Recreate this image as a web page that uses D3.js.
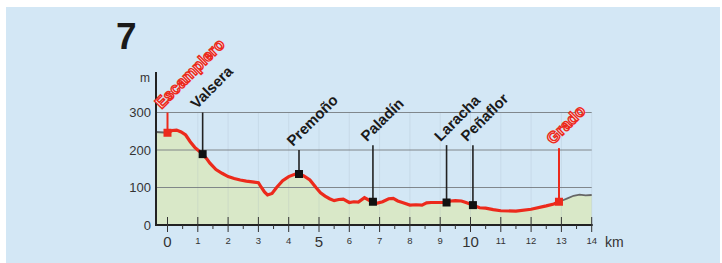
<!DOCTYPE html>
<html>
<head>
<meta charset="utf-8">
<script src="https://cdn.jsdelivr.net/npm/d3@7"></script>
<style>
  html, body { margin: 0; padding: 0; background: #fff; }
  svg { display: block; font-family: "Liberation Sans", Arial, sans-serif; }
</style>
</head>
<body>
<svg id="chart" width="722" height="263"></svg>
<script>
// profile data (distance in km, elevation in m)
const dist = [-0.38, 0, 0.15, 0.3, 0.45, 0.6, 0.75, 0.9, 1.0, 1.16, 1.3, 1.4, 1.6, 1.8, 2.0, 2.2, 2.4, 2.6, 2.8, 3.0,
  3.1, 3.2, 3.3, 3.45, 3.6, 3.8, 4.0, 4.2, 4.34, 4.5, 4.7, 4.9, 5.05, 5.2, 5.35, 5.5, 5.65, 5.8, 6.0, 6.15,
  6.3, 6.5, 6.65, 6.78, 6.9, 7.1, 7.3, 7.45, 7.6, 7.75, 8.0, 8.2, 8.4, 8.55, 8.7, 9.0, 9.21, 9.35, 9.5, 9.7,
  9.85, 10.08, 10.3, 10.5, 10.75, 11, 11.5, 12, 12.5, 12.75, 12.92, 13.05, 13.2, 13.4, 13.6, 13.8, 14.0];
const elev = [248, 246, 252, 253, 248, 240, 222, 207, 200, 189, 176, 165, 148, 138, 129, 124, 120, 117, 115, 113,
  100, 88, 80, 84, 100, 118, 129, 135, 136, 131, 120, 100, 86, 77, 70, 65, 68, 69, 60, 62,
  61, 73, 66, 62, 58, 62, 70, 71, 64, 60, 53, 54, 53, 59, 60, 60, 60, 64, 65, 64,
  60, 53, 46, 45, 41, 38, 37, 42, 51, 56, 62, 66, 71, 78, 81, 79, 80];

// stage section drawn in red
const routeStart = 0, routeEnd = 12.92;

// places on the route
const placeNames = ["Escamplero", "Valsera", "Premoño", "Paladín", "Laracha", "Peñaflor", "Grado"];
const placeKm    = [0, 1.16, 4.34, 6.78, 9.21, 10.08, 12.92];
const placeElev  = [246, 189, 136, 62, 60, 53, 62];
const placeTop   = [300, 300, 200, 213, 213, 213, 205];
const placeMain  = [true, false, false, false, false, false, true];

const yTicks = [0, 100, 200, 300];
const xTicks = d3.range(0, 15);
const xMinor = d3.range(0.5, 14, 1);
const bigTicks = [0, 5, 10];

const svg = d3.select("#chart");
const red = "#ec2a1c";

svg.append("rect").attr("x", 6).attr("y", 7).attr("width", 714).attr("height", 256).attr("fill", "#d3e7f5");

const x = d3.scaleLinear().domain([0, 14]).range([167.5, 591.7]);
const y = d3.scaleLinear().domain([0, 300]).range([225, 112.5]);
const axisLeft = 156;

const pts = dist.map((d, i) => ({ d: d, e: elev[i] }));

// filled terrain
const area = d3.area().x(p => x(p.d)).y0(y(0)).y1(p => y(p.e));
svg.append("path").datum(pts).attr("d", area).attr("fill", "#d9e8c8");

// faint vertical guides
svg.append("g").selectAll("line").data(xTicks.slice(1)).enter().append("line")
  .attr("x1", d => x(d)).attr("x2", d => x(d))
  .attr("y1", y(300)).attr("y2", y(0))
  .attr("stroke", "#9ab").attr("stroke-opacity", 0.25).attr("stroke-width", 0.8);

// horizontal grid
svg.append("g").selectAll("line").data(yTicks.slice(1)).enter().append("line")
  .attr("x1", axisLeft).attr("x2", x(14))
  .attr("y1", d => y(d)).attr("y2", d => y(d))
  .attr("stroke", "#767c80").attr("stroke-width", 0.9);

// profile lines
const line = d3.line().x(p => x(p.d)).y(p => y(p.e));
const before = pts.filter(p => p.d <= routeStart);
const after = pts.filter(p => p.d >= routeEnd);
const route = pts.filter(p => p.d >= routeStart && p.d <= routeEnd);
svg.append("path").datum(before).attr("d", line).attr("fill", "none").attr("stroke", "#666").attr("stroke-width", 1.8);
svg.append("path").datum(after).attr("d", line).attr("fill", "none").attr("stroke", "#666").attr("stroke-width", 1.8);
svg.append("path").datum(route).attr("d", line).attr("fill", "none")
  .attr("stroke", red).attr("stroke-width", 3.2).attr("stroke-linejoin", "miter");

// axes
svg.append("line").attr("x1", axisLeft).attr("x2", axisLeft).attr("y1", 72).attr("y2", y(0) + 1)
  .attr("stroke", "#222").attr("stroke-width", 2);
svg.append("line").attr("x1", axisLeft).attr("x2", x(14) + 1).attr("y1", y(0)).attr("y2", y(0))
  .attr("stroke", "#222").attr("stroke-width", 2);

svg.append("g").selectAll("line").data(xTicks).enter().append("line")
  .attr("x1", d => x(d)).attr("x2", d => x(d)).attr("y1", y(0) - 8).attr("y2", y(0) + 7)
  .attr("stroke", "#333").attr("stroke-width", 1);
svg.append("g").selectAll("line").data(xMinor).enter().append("line")
  .attr("x1", d => x(d)).attr("x2", d => x(d)).attr("y1", y(0)).attr("y2", y(0) + 4)
  .attr("stroke", "#333").attr("stroke-width", 1);

svg.append("g").selectAll("text").data(xTicks).enter().append("text")
  .attr("x", d => x(d)).attr("y", d => bigTicks.includes(d) ? 247 : 244)
  .attr("text-anchor", "middle")
  .attr("font-size", d => bigTicks.includes(d) ? 15 : 9.5)
  .attr("fill", "#333")
  .text(d => d);
svg.append("text").attr("x", 605).attr("y", 247).attr("font-size", 14).attr("fill", "#333").text("km");

svg.append("g").selectAll("text").data(yTicks).enter().append("text")
  .attr("x", 151).attr("y", d => y(d) + 4.5)
  .attr("text-anchor", "end").attr("font-size", 13).attr("fill", "#333")
  .text(d => d);
svg.append("text").attr("x", 150).attr("y", 82).attr("text-anchor", "end")
  .attr("font-size", 12).attr("fill", "#333").text("m");

// stage number
svg.append("text").attr("x", 116).attr("y", 49).attr("font-size", 37).attr("font-weight", "bold")
  .attr("fill", "#1a1a1a").text("7");

// place markers
const places = placeNames.map((n, i) => ({ name: n, km: placeKm[i], e: placeElev[i], top: placeTop[i], main: placeMain[i] }));
const pg = svg.append("g").selectAll("g").data(places).enter().append("g");

pg.append("line")
  .attr("x1", d => x(d.km)).attr("x2", d => x(d.km))
  .attr("y1", d => y(d.top)).attr("y2", d => y(d.e))
  .attr("stroke", d => d.main ? red : "#222").attr("stroke-width", d => d.main ? 2 : 1.6);

pg.append("rect")
  .attr("x", d => x(d.km) - 4).attr("y", d => y(d.e) - 4)
  .attr("width", 8).attr("height", 8)
  .attr("fill", d => d.main ? red : "#111");

pg.append("text")
  .attr("transform", d => `translate(${x(d.km) - 6},${y(d.top) - 3}) rotate(-45)`)
  .attr("font-size", d => d.main ? 16 : 15).attr("font-weight", "bold")
  .attr("fill", d => d.main ? "#fff6f3" : "#1a1a1a")
  .attr("stroke", d => d.main ? red : "none")
  .attr("stroke-width", 1.4)
  .text(d => d.name);
</script>
</body>
</html>
